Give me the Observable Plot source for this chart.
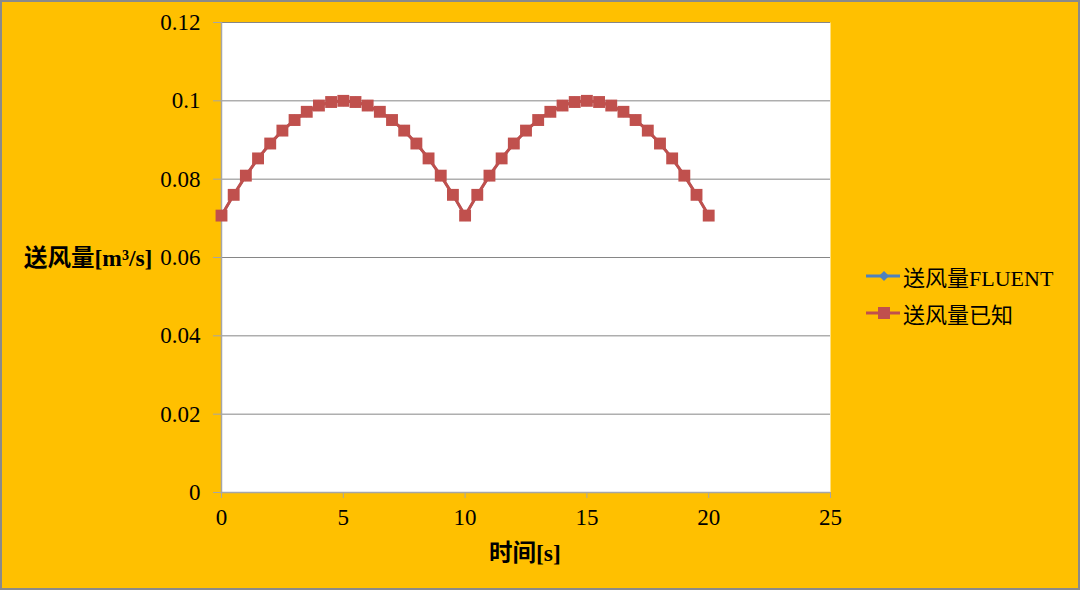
<!DOCTYPE html>
<html><head><meta charset="utf-8">
<script src="https://cdn.jsdelivr.net/npm/d3@7"></script>
<script src="https://cdn.jsdelivr.net/npm/@observablehq/plot@0.6"></script>
<style>
html,body{margin:0;padding:0;background:#FFC000;}
#wrap{position:relative;width:1080px;height:590px;background:#FFC000;overflow:hidden;}
#border{position:absolute;left:0;top:0;width:1080px;height:590px;box-sizing:border-box;border:2px solid #8a8a8a;pointer-events:none;}
.lbl{position:absolute;font-family:"Liberation Serif","Noto Sans CJK SC",serif;font-weight:bold;font-size:23.5px;line-height:24px;color:#000;white-space:nowrap;}
#legend{position:absolute;left:866px;top:257px;font-family:"Liberation Serif","Noto Sans CJK SC",serif;font-size:22px;color:#000;}
#legend .row{display:flex;align-items:center;height:37px;}
#legend svg{margin-right:3px;}
</style></head>
<body>
<div id="wrap">
  <div id="chart"></div>
  <div class="lbl" style="left:24px;top:246px;">送风量[m³/s]</div>
  <div class="lbl" style="left:489px;top:541px;">时间[s]</div>
  <div id="legend"></div>
  <div id="border"></div>
</div>
<script>
const time = [0,0.5,1,1.5,2,2.5,3,3.5,4,4.5,5,5.5,6,6.5,7,7.5,8,8.5,9,9.5,10,10.5,11,11.5,12,12.5,13,13.5,14,14.5,15,15.5,16,16.5,17,17.5,18,18.5,19,19.5,20];
const fluent = [0.0707,0.0760,0.0809,0.0853,0.0891,0.0924,0.0951,0.0972,0.0988,0.0997,0.1000,0.0997,0.0988,0.0972,0.0951,0.0924,0.0891,0.0853,0.0809,0.0760,0.0707,0.0760,0.0809,0.0853,0.0891,0.0924,0.0951,0.0972,0.0988,0.0997,0.1000,0.0997,0.0988,0.0972,0.0951,0.0924,0.0891,0.0853,0.0809,0.0760,0.0707];
const known = [0.0707,0.0760,0.0809,0.0853,0.0891,0.0924,0.0951,0.0972,0.0988,0.0997,0.1000,0.0997,0.0988,0.0972,0.0951,0.0924,0.0891,0.0853,0.0809,0.0760,0.0707,0.0760,0.0809,0.0853,0.0891,0.0924,0.0951,0.0972,0.0988,0.0997,0.1000,0.0997,0.0988,0.0972,0.0951,0.0924,0.0891,0.0853,0.0809,0.0760,0.0707];
const seriesNames = ["送风量FLUENT","送风量已知"];
const seriesColors = ["#4F81BD","#C0504D"];
const xTicks = [0,5,10,15,20,25];
const yTicks = [0,0.02,0.04,0.06,0.08,0.1,0.12];
const yTickLabels = ["0","0.02","0.04","0.06","0.08","0.1","0.12"];

const dataF = time.map((t,i)=>({t, v:fluent[i]}));
const dataK = time.map((t,i)=>({t, v:known[i]}));

const font = '"Liberation Serif","Noto Sans CJK SC",serif';
const chart = Plot.plot({
  width:1080, height:590,
  marginLeft:221, marginRight:250, marginTop:22, marginBottom:98,
  style:{background:"transparent", fontFamily:font, fontSize:"23px", color:"#000", overflow:"visible"},
  x:{domain:[0,25]},
  y:{domain:[0,0.12]},
  marks:[
    Plot.frame({fill:"white", stroke:null}),
    Plot.ruleY(yTicks.filter(d=>d>0), {stroke:"#868686", strokeWidth:1}),
    Plot.ruleY([0], {stroke:"#a6a6a6", strokeWidth:1.5}),
    Plot.ruleX([0], {stroke:"#a6a6a6", strokeWidth:1.5}),
    Plot.axisY({ticks:yTicks, tickFormat:(d,i)=>yTickLabels[i], tickSize:8, tickPadding:13, stroke:"#a6a6a6", label:null, fontSize:23}),
    Plot.axisX({ticks:xTicks, tickFormat:d=>String(d), tickSize:6, tickPadding:10, stroke:"#a6a6a6", label:null, fontSize:23}),
    Plot.line(dataF, {x:"t", y:"v", stroke:seriesColors[0], strokeWidth:2.5}),
    Plot.dot(dataF, {x:"t", y:"v", symbol:"diamond", r:3.5, fill:seriesColors[0], stroke:null}),
    Plot.line(dataK, {x:"t", y:"v", stroke:seriesColors[1], strokeWidth:3}),
    Plot.dot(dataK, {x:"t", y:"v", symbol:"square", r:6.7, fill:seriesColors[1], stroke:null})
  ]
});
document.getElementById("chart").appendChild(chart);

const legend = document.getElementById("legend");
seriesNames.forEach((name,i)=>{
  const row = document.createElement("div");
  row.className="row";
  const marker = i===0
    ? `<path d="M18,5 L23,10 L18,15 L13,10 Z" fill="${seriesColors[i]}"/>`
    : `<rect x="12" y="4" width="12" height="12" fill="${seriesColors[i]}"/>`;
  row.innerHTML = `<svg width="34" height="20"><line x1="0" y1="10" x2="34" y2="10" stroke="${seriesColors[i]}" stroke-width="3"/>${marker}</svg><span>${name}</span>`;
  legend.appendChild(row);
});
</script>
</body></html>
